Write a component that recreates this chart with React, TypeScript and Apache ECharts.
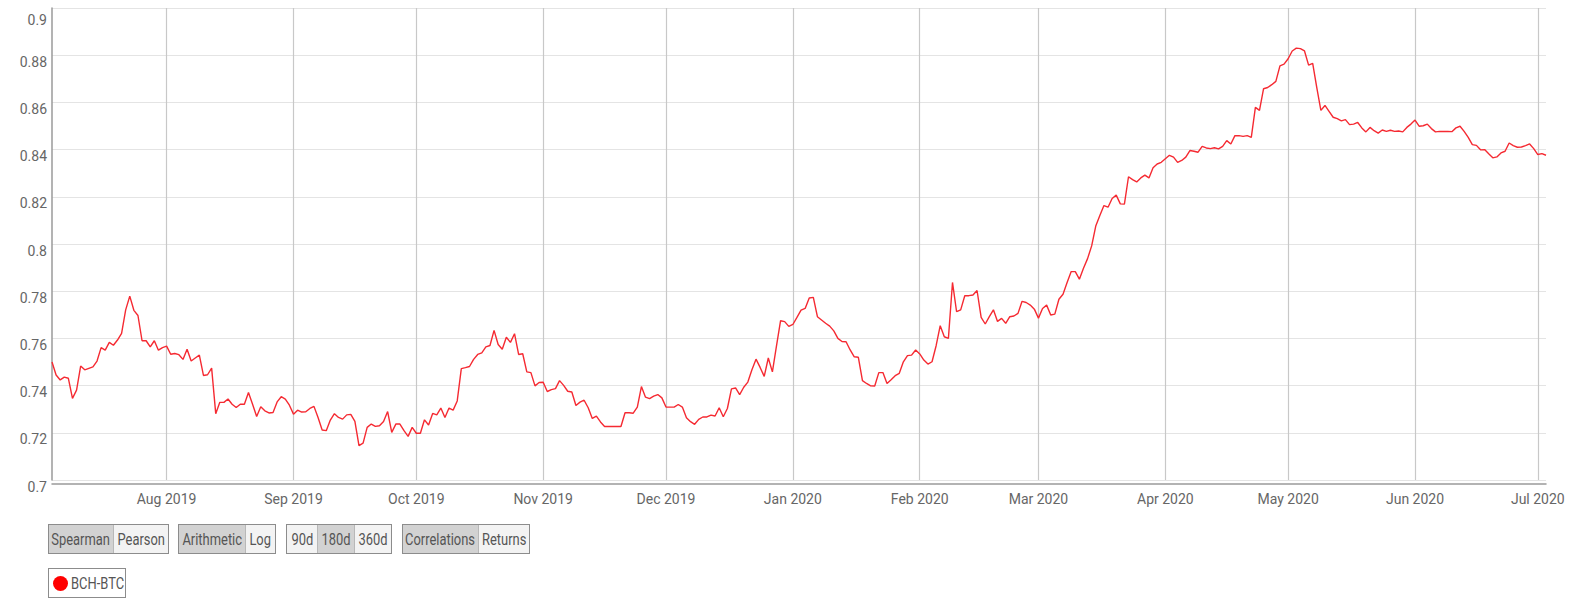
import React, { useEffect, useRef } from "react";
import * as echarts from "echarts";

// BCH-BTC 180d Spearman correlation, daily from 2019-07-04 to 2020-07-03
const START_YEAR = 2019;
const START_MONTH = 6; // July (0-based)
const START_DAY = 4;

const corrValues: number[] = [
  0.750, 0.7445, 0.7424, 0.7436, 0.7431, 0.7346, 0.7381, 0.7483, 0.7467, 0.7473,
  0.7479, 0.7504, 0.7561, 0.755, 0.7583, 0.7571, 0.7593, 0.7621, 0.7721, 0.7779,
  0.7719, 0.7697, 0.759, 0.759, 0.7564, 0.759, 0.755, 0.7561, 0.7567, 0.7533,
  0.7536, 0.7531, 0.7511, 0.7554, 0.7504, 0.7517, 0.7529, 0.7443, 0.7446, 0.7474,
  0.7281, 0.7329, 0.7329, 0.7343, 0.7321, 0.7307, 0.7321, 0.7321, 0.7371, 0.7321,
  0.7269, 0.731, 0.7293, 0.7284, 0.7286, 0.7331, 0.7353, 0.7343, 0.7317, 0.7279,
  0.7296, 0.7288, 0.7289, 0.7303, 0.7312, 0.7265, 0.7212, 0.7209, 0.7254, 0.7281,
  0.7265, 0.7258, 0.7276, 0.7278, 0.7248, 0.7146, 0.7156, 0.7223, 0.7237, 0.7227,
  0.723, 0.7248, 0.729, 0.7202, 0.7237, 0.7237, 0.7209, 0.7185, 0.7223, 0.7198,
  0.7198, 0.7255, 0.7233, 0.7282, 0.7276, 0.7305, 0.7265, 0.7305, 0.7296, 0.7335,
  0.7472, 0.7476, 0.7481, 0.7511, 0.7532, 0.7539, 0.7564, 0.757, 0.7634, 0.7574,
  0.7554, 0.7605, 0.7583, 0.762, 0.7532, 0.7535, 0.7458, 0.7455, 0.7399, 0.7413,
  0.7414, 0.7375, 0.7383, 0.7387, 0.7421, 0.7401, 0.7376, 0.7373, 0.7316, 0.733,
  0.7338, 0.7306, 0.7261, 0.7271, 0.7246, 0.7227, 0.7227, 0.7227, 0.7227, 0.7227,
  0.7285, 0.7285, 0.7283, 0.7309, 0.7396, 0.7351, 0.7345, 0.7355, 0.7362, 0.7348,
  0.7309, 0.7309, 0.7309, 0.732, 0.7309, 0.7264, 0.7247, 0.7236, 0.7257, 0.7267,
  0.7267, 0.7275, 0.7271, 0.7306, 0.7268, 0.7303, 0.7386, 0.739, 0.7362, 0.7393,
  0.7415, 0.7467, 0.7512, 0.7477, 0.7439, 0.7517, 0.7458, 0.7568, 0.7675, 0.7671,
  0.7651, 0.7659, 0.7689, 0.772, 0.7727, 0.7771, 0.7774, 0.7692, 0.7678, 0.7664,
  0.7652, 0.7632, 0.76, 0.7587, 0.7586, 0.7551, 0.7522, 0.752, 0.7421, 0.7409,
  0.7399, 0.7398, 0.7455, 0.7455, 0.7409, 0.7425, 0.7442, 0.7452, 0.7501, 0.7527,
  0.7529, 0.7551, 0.7534, 0.7508, 0.7491, 0.7501, 0.7569, 0.7654, 0.7607, 0.76,
  0.7837, 0.7713, 0.7721, 0.7781, 0.7781, 0.7784, 0.7803, 0.7689, 0.7661, 0.7692,
  0.7721, 0.7672, 0.7685, 0.7664, 0.7692, 0.7695, 0.7706, 0.7757, 0.7752, 0.7741,
  0.7724, 0.7686, 0.7727, 0.7741, 0.7699, 0.7703, 0.7766, 0.7787, 0.7837, 0.7883,
  0.7883, 0.7851, 0.7897, 0.7938, 0.7992, 0.8076, 0.8121, 0.8163, 0.8156, 0.8193,
  0.8207, 0.817, 0.8169, 0.8285, 0.8273, 0.8263, 0.828, 0.8292, 0.828, 0.8323,
  0.8339, 0.8346, 0.8361, 0.8376, 0.8368, 0.8346, 0.8354, 0.8368, 0.8396, 0.8393,
  0.8389, 0.8414, 0.8407, 0.8404, 0.8408, 0.8403, 0.8414, 0.8438, 0.8424, 0.8459,
  0.8459, 0.8456, 0.8459, 0.8452, 0.8579, 0.8566, 0.8658, 0.8663, 0.8675, 0.8689,
  0.8755, 0.8762, 0.8785, 0.8818, 0.883, 0.8828, 0.8818, 0.8758, 0.8765, 0.8663,
  0.8566, 0.8587, 0.8562, 0.8537, 0.8531, 0.8522, 0.8527, 0.8506, 0.8508, 0.8515,
  0.8492, 0.8475, 0.8494, 0.848, 0.847, 0.8483, 0.8477, 0.8482, 0.8477, 0.8479,
  0.8475, 0.8494, 0.8508, 0.8525, 0.8499, 0.8501, 0.8508, 0.8489, 0.8475, 0.8477,
  0.8477, 0.8477, 0.8476, 0.8492, 0.8499, 0.8477, 0.8452, 0.8421, 0.8418, 0.8399,
  0.84, 0.8382, 0.8365, 0.8369, 0.8386, 0.8393, 0.8428, 0.8417, 0.841, 0.8411,
  0.8417, 0.8424, 0.8404, 0.8379, 0.8383, 0.8376,
];

const MONTH_NAMES = ["Jan", "Feb", "Mar", "Apr", "May", "Jun", "Jul", "Aug", "Sep", "Oct", "Nov", "Dec"];

const Y_MIN = 0.7;
const Y_MAX = 0.9;
const Y_STEP = 0.02;

const SERIES_NAME = "BCH-BTC";

const BUTTON_GROUPS: { label: string; width: number; active: boolean }[][] = [
  [
    { label: "Spearman", width: 65, active: true },
    { label: "Pearson", width: 56, active: false },
  ],
  [
    { label: "Arithmetic", width: 67, active: true },
    { label: "Log", width: 31, active: false },
  ],
  [
    { label: "90d", width: 31, active: false },
    { label: "180d", width: 37, active: true },
    { label: "360d", width: 38, active: false },
  ],
  [
    { label: "Correlations", width: 76, active: true },
    { label: "Returns", width: 52, active: false },
  ],
];
const GROUP_LEFTS = [48, 178, 286, 402];

function pad(n: number) {
  return n < 10 ? "0" + n : "" + n;
}

const dateLabels: string[] = corrValues.map((_, i) => {
  const d = new Date(START_YEAR, START_MONTH, START_DAY + i);
  return `${d.getFullYear()}-${pad(d.getMonth() + 1)}-${pad(d.getDate())}`;
});

const isMonthStart = (_i: number, v: string) => v.slice(8, 10) === "01";

export default function App() {
  const ref = useRef<HTMLDivElement>(null);

  useEffect(() => {
    if (!ref.current) return;
    const chart = echarts.init(ref.current, undefined, { renderer: "svg" });
    chart.setOption({
      animation: false,
      textStyle: { fontFamily: "Roboto" },
      grid: { left: 52, top: 8, width: 1494, height: 472, containLabel: false },
      xAxis: {
        type: "category",
        data: dateLabels,
        boundaryGap: false,
        offset: 4,
        axisLine: { show: true, lineStyle: { color: "#9a9a9a", width: 1.5 } },
        axisTick: { show: false },
        axisLabel: {
          interval: isMonthStart,
          color: "#666",
          fontSize: 14,
          fontFamily: "Roboto",
          margin: 8,
          formatter: (v: string) => {
            const y = v.slice(0, 4);
            const m = parseInt(v.slice(5, 7), 10) - 1;
            return `${MONTH_NAMES[m]} ${y}`;
          },
        },
        splitLine: {
          show: true,
          interval: isMonthStart,
          lineStyle: { color: "#c8c8c8", width: 1.2 },
        },
      },
      yAxis: {
        type: "value",
        min: Y_MIN,
        max: Y_MAX,
        interval: Y_STEP,
        axisLine: { show: true, lineStyle: { color: "#9a9a9a", width: 1.5 } },
        axisTick: { show: false },
        splitLine: { show: true, lineStyle: { color: "#e4e4e4", width: 1 } },
        axisLabel: {
          color: "#666",
          fontSize: 14,
          fontFamily: "Roboto",
          margin: 5,
          formatter: (v: number) => {
            const s = String(parseFloat(v.toFixed(2)));
            return Math.abs(v - Y_MAX) < 1e-9 ? `{t|${s}}` : `{n|${s}}`;
          },
          rich: {
            t: { color: "#666", fontSize: 14, fontFamily: "Roboto", padding: [24, 0, 0, 0] },
            n: { color: "#666", fontSize: 14, fontFamily: "Roboto", padding: [13, 0, 0, 0] },
          },
        },
      },
      series: [
        {
          name: SERIES_NAME,
          type: "line",
          data: corrValues,
          showSymbol: false,
          symbol: "none",
          lineStyle: { color: "#f52a32", width: 1.4 },
          itemStyle: { color: "#f52a32" },
        },
      ],
    });
    return () => chart.dispose();
  }, []);

  const font = "Roboto, 'Noto Sans', sans-serif";

  return (
    <div style={{ position: "absolute", left: 0, top: 0, width: 1573, height: 607, background: "#fff", fontFamily: font }}>
      <div ref={ref} style={{ position: "absolute", left: 0, top: 0, width: 1573, height: 515 }} />
      {BUTTON_GROUPS.map((group, gi) => (
        <div
          key={gi}
          style={{
            position: "absolute",
            left: GROUP_LEFTS[gi],
            top: 524,
            height: 28,
            display: "flex",
            border: "1px solid #8c8c8c",
          }}
        >
          {group.map((b, bi) => (
            <div
              key={bi}
              style={{
                width: b.width - (bi === 0 ? 1 : 0) - (bi === group.length - 1 ? 1 : 0) - (bi > 0 ? 1 : 0),
                flex: "0 0 auto",
                height: 28,
                display: "flex",
                alignItems: "center",
                justifyContent: "center",
                background: b.active ? "#d2d2d2" : "#f3f3f3",
                borderLeft: bi > 0 ? "1px solid #b8b8b8" : "none",
                color: "#555",
                fontSize: 17,
                whiteSpace: "nowrap",
                overflow: "visible",
              }}
            >
              <span style={{ display: "inline-block", flex: "0 0 auto", transform: "scaleX(0.76)", whiteSpace: "nowrap" }}>{b.label}</span>
            </div>
          ))}
        </div>
      ))}
      <div
        style={{
          position: "absolute",
          left: 48,
          top: 568,
          width: 76,
          height: 28,
          border: "1px solid #8c8c8c",
          background: "#fff",
          display: "flex",
          alignItems: "center",
          whiteSpace: "nowrap",
        }}
      >
        <div
          style={{
            width: 15,
            height: 15,
            flex: "0 0 15px",
            borderRadius: "50%",
            background: "#ff0000",
            marginLeft: 4,
          }}
        />
        <span
          style={{
            display: "inline-block",
            marginLeft: 3,
            fontSize: 17,
            color: "#555",
            whiteSpace: "nowrap",
            transform: "scaleX(0.76)",
            transformOrigin: "left center",
          }}
        >
          {SERIES_NAME}
        </span>
      </div>
    </div>
  );
}
